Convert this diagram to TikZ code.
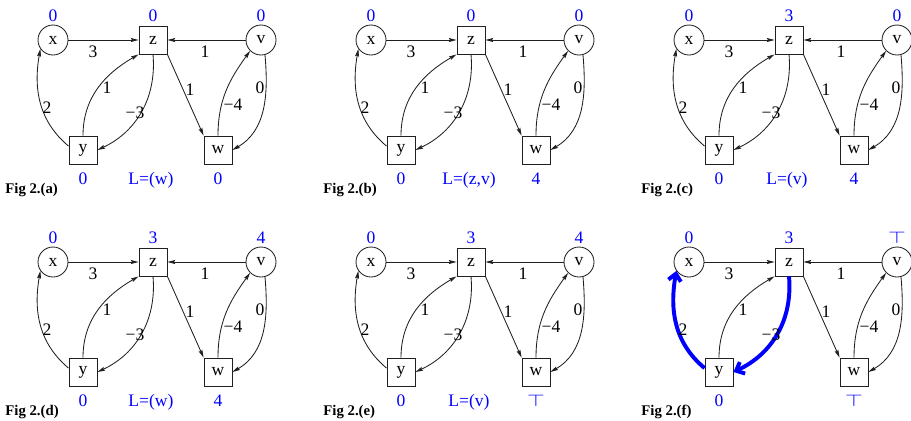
\documentclass[tikz,border=0pt]{standalone}
\usepackage{fontspec}
\setmainfont{Liberation Serif}
\usetikzlibrary{arrows.meta, positioning}
\definecolor{cval}{HTML}{0000FF}
\definecolor{cedge}{HTML}{202020}
\newcommand{\topval}{\scalebox{1.35}[1]{$\top$}}
\tikzset{
  every picture/.style={line width=0.6pt},
  vtx/.style={draw=cedge, circle, minimum size=0.75cm, inner sep=0pt, font=\fontsize{12.5}{14}\selectfont},
  sq/.style={draw=cedge, rectangle, minimum size=0.7cm, inner sep=0pt, font=\fontsize{12.5}{14}\selectfont},
  arrow/.style={draw=cedge, -{Stealth[length=5.5pt, width=2.8pt, inset=0.8pt]}},
  hot/.style={draw=cval, line width=2.8pt, -{Straight Barb[length=5pt, width=9pt]}},
  plain/.style={},
  pick/.code={\pgfkeysalso{#1}},
  val/.style={text=cval, font=\fontsize{12.5}{14}\selectfont, anchor=base, inner sep=0pt},
  wt/.style={font=\fontsize{12.5}{14}\selectfont, inner sep=0pt},
  tag/.style={font=\fontsize{10.5}{12}\selectfont\bfseries, anchor=base west, inner sep=0pt},
}

\begin{document}
\begin{tikzpicture}
  \useasboundingbox (0,0) rectangle (22.775,-10.5);
  % one panel per step: label above x, z, v / below y, w / the list L
  \foreach \p/\cx/\cy/\xv/\zv/\vv/\yv/\wv/\L/\hl in {
      a/0/0/0/0/0/0/0/{L=(w)}/plain,
      b/7.95/0/0/0/0/0/4/{L=(z,v)}/plain,
      c/15.9/0/0/3/0/0/4/{L=(v)}/plain,
      d/0/-5.55/0/3/4/0/4/{L=(w)}/plain,
      e/7.95/-5.55/0/3/4/0/\topval/{L=(v)}/plain,
      f/15.9/-5.55/0/3/\topval/0/\topval/{}/hot} {
    \begin{scope}[shift={(\cx,\cy)}]
      \node[vtx] (\p-x) at (1.325,-1) {x};
      \node[sq]  (\p-z) at (3.825,-1) {z};
      \node[vtx] (\p-v) at (6.525,-1) {v};
      \node[sq]  (\p-y) at (2.075,-3.75) {y};
      \node[sq]  (\p-w) at (5.45,-3.75) {w};
      \draw[arrow] (\p-x) -- (\p-z);
      \draw[arrow] (\p-v) -- (\p-z);
      \draw[arrow] (\p-z.south east) -- (\p-w.north west);
      \draw[arrow, pick/.expand once=\hl] (\p-y.165) to[out=140, in=-100] (\p-x.215);
      \draw[arrow] (\p-y.north) to[out=90, in=210] (\p-z.south west);
      \draw[arrow, pick/.expand once=\hl] (\p-z.south) to[out=-85, in=25] (\p-y.east);
      \draw[arrow] (\p-w.north) to[out=90, in=234] (\p-v.225);
      \draw[arrow] (\p-v.285) to[out=-85, in=30] (\p-w.east);
      \foreach \n/\ex/\ey/\t in {xz/2.325/-1.3/3, vz/5.125/-1.3/1, yx/1.175/-2.7/2,
          yz/2.675/-2.2/1, zy/3.375/-2.825/−3, zw/4.75/-2.25/1, wv/5.825/-2.625/−4, vw/6.5/-2.2/0}
        \node[wt] (\p-\n) at (\ex,\ey) {\t};
      \node[val] (\p-xv) at (1.325,-0.525) {\xv};
      \node[val] (\p-zv) at (3.825,-0.525) {\zv};
      \node[val] (\p-vv) at (6.525,-0.525) {\vv};
      \node[val] (\p-yv) at (2.075,-4.6) {\yv};
      \node[val] (\p-wv) at (5.45,-4.6) {\wv};
      \node[val] (\p-L)  at (3.775,-4.6) {\L};
      \node[tag] (\p-tag) at (0.125,-4.825) {Fig 2.(\p)};
    \end{scope}
  }
\end{tikzpicture}
\end{document}
